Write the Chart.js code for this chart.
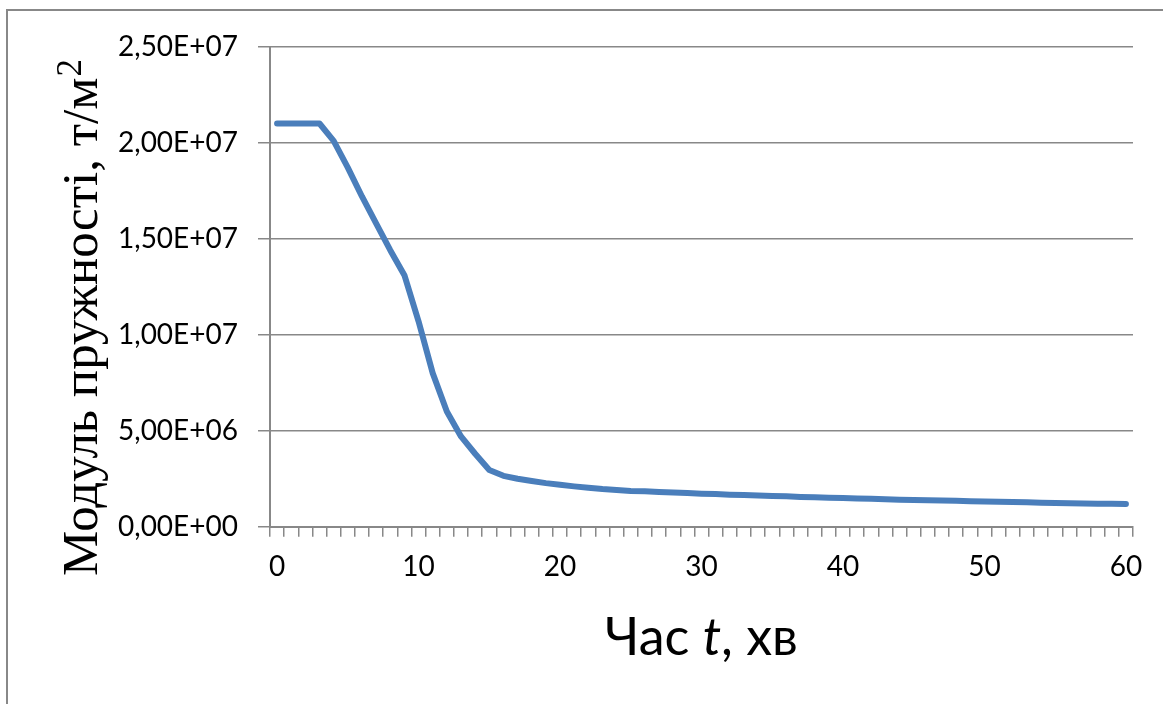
<!DOCTYPE html>
<html>
<head>
<meta charset="utf-8">
<script src="https://cdn.jsdelivr.net/npm/chart.js@4.4.1/dist/chart.umd.min.js"></script>
<style>
  html, body { margin: 0; padding: 0; background: #fff; }
  #wrap { position: relative; width: 1163px; height: 704px; }
</style>
</head>
<body>
<div id="wrap"><canvas id="modulusChart" width="1163" height="704"></canvas></div>
<script>
// time, minutes (one category per minute)
const minutes = [
  0, 1, 2, 3, 4, 5, 6, 7, 8, 9,
  10, 11, 12, 13, 14, 15, 16, 17, 18, 19,
  20, 21, 22, 23, 24, 25, 26, 27, 28, 29,
  30, 31, 32, 33, 34, 35, 36, 37, 38, 39,
  40, 41, 42, 43, 44, 45, 46, 47, 48, 49,
  50, 51, 52, 53, 54, 55, 56, 57, 58, 59,
  60
];

// elastic modulus, t/m2
const modulus = [
  2.10e7, 2.10e7, 2.10e7, 2.10e7, 2.01e7, 1.87e7, 1.72e7, 1.58e7, 1.44e7, 1.31e7,
  1.07e7, 8.00e6, 6.00e6, 4.70e6, 3.80e6, 2.95e6, 2.65e6, 2.50e6, 2.38e6, 2.27e6,
  2.18e6, 2.10e6, 2.03e6, 1.96e6, 1.91e6, 1.86e6, 1.84e6, 1.81e6, 1.78e6, 1.75e6,
  1.72e6, 1.70e6, 1.67e6, 1.65e6, 1.62e6, 1.60e6, 1.58e6, 1.55e6, 1.53e6, 1.51e6,
  1.49e6, 1.47e6, 1.45e6, 1.43e6, 1.41e6, 1.39e6, 1.38e6, 1.36e6, 1.35e6, 1.33e6,
  1.31e6, 1.30e6, 1.29e6, 1.27e6, 1.25e6, 1.23e6, 1.22e6, 1.21e6, 1.20e6, 1.19e6,
  1.18e6
];

// labelled x ticks and y range
const xTickLabels = ['0', '10', '20', '30', '40', '50', '60'];
const yMin = 0;
const yMax = 2.5e7;
const yStep = 5e6;

const GRID = '#888888';
const LINE = '#4a7ebb';

// "2,50E+07" style, like the spreadsheet
function sciLabel(v) {
  const e = v === 0 ? 0 : Math.floor(Math.log10(v) + 1e-9);
  const m = v / Math.pow(10, e);
  return m.toFixed(2).replace('.', ',') + 'E+' + String(e).padStart(2, '0');
}

// frame + axis titles (the x title has an italic "t", the y title a superscript)
const titlesPlugin = {
  id: 'titles',
  beforeDraw(chart) {
    const ctx = chart.ctx;
    ctx.save();
    ctx.strokeStyle = GRID;
    ctx.lineWidth = 2;
    ctx.beginPath();
    ctx.moveTo(7, chart.height + 2);
    ctx.lineTo(7, 10);
    ctx.lineTo(chart.width + 2, 10);
    ctx.stroke();
    ctx.restore();
  },
  afterDraw(chart) {
    const ctx = chart.ctx;
    const area = chart.chartArea;

    // y axis title
    ctx.save();
    ctx.fillStyle = '#000';
    ctx.textAlign = 'left';
    ctx.textBaseline = 'alphabetic';
    ctx.translate(area.left - 173, 318);
    ctx.rotate(-Math.PI / 2);
    const yMain = 'Модуль пружності, т/м';
    ctx.font = '51px "Liberation Serif"';
    const w1 = ctx.measureText(yMain).width;
    ctx.font = '35px "Liberation Serif"';
    const w2 = ctx.measureText('2').width;
    const x0 = -(w1 + w2) / 2;
    ctx.font = '51px "Liberation Serif"';
    ctx.fillText(yMain, x0, 0);
    ctx.font = '35px "Liberation Serif"';
    ctx.fillText('2', x0 + w1 + 1, -16);
    ctx.restore();

    // x axis title
    ctx.save();
    ctx.fillStyle = '#000';
    ctx.textAlign = 'left';
    ctx.textBaseline = 'alphabetic';
    const parts = [
      { text: 'Час ', font: '52px Lato' },
      { text: 't', font: 'italic 52px Lato' },
      { text: ', хв', font: '52px Lato' }
    ];
    let total = 0;
    parts.forEach(p => { ctx.font = p.font; p.w = ctx.measureText(p.text).width; total += p.w; });
    let x = (area.left + area.right) / 2 - total / 2;
    const baseY = area.bottom + 128;
    parts.forEach(p => { ctx.font = p.font; ctx.fillText(p.text, x, baseY); x += p.w; });
    ctx.restore();
  }
};

function initModulusChart() {
  const ctx = document.getElementById('modulusChart');
  if (!ctx) return;
  new Chart(ctx.getContext('2d'), {
    type: 'line',
    data: {
      labels: minutes.map(String),
      datasets: [{
        label: 'E',
        data: modulus,
        borderColor: LINE,
        borderWidth: 6,
        borderCapStyle: 'round',
        borderJoinStyle: 'round',
        pointRadius: 0,
        tension: 0,
        fill: false
      }]
    },
    options: {
      responsive: false,
      animation: false,
      layout: { padding: { left: 0, top: 46.7, right: 30, bottom: 0 } },
      plugins: {
        legend: { display: false },
        tooltip: { enabled: false }
      },
      scales: {
        x: {
          type: 'category',
          offset: true,
          grid: {
            offset: true,
            drawOnChartArea: false,
            drawTicks: true,
            tickLength: 10,
            color: GRID,
            lineWidth: 1.5
          },
          border: { display: true, color: GRID, width: 2 },
          ticks: {
            autoSkip: false,
            maxRotation: 0,
            padding: 13,
            color: '#000',
            font: { family: 'Lato', size: 28 },
            callback: function (val, i) {
              const lbl = this.getLabelForValue(val);
              return xTickLabels.includes(lbl) ? lbl : '';
            }
          },
          afterFit: function (scale) { scale.height = 704 - 526.7; }
        },
        y: {
          min: yMin,
          max: yMax,
          grid: {
            color: GRID,
            lineWidth: 1.5,
            tickLength: 12
          },
          border: { display: true, color: GRID, width: 2 },
          ticks: {
            stepSize: yStep,
            padding: 20,
            color: '#000',
            font: { family: 'Lato', size: 28 },
            callback: v => sciLabel(v)
          },
          afterFit: function (scale) { scale.width = 270; }
        }
      }
    },
    plugins: [titlesPlugin]
  });
}

document.addEventListener('DOMContentLoaded', function () {
  initModulusChart();
});
</script>
</body>
</html>
